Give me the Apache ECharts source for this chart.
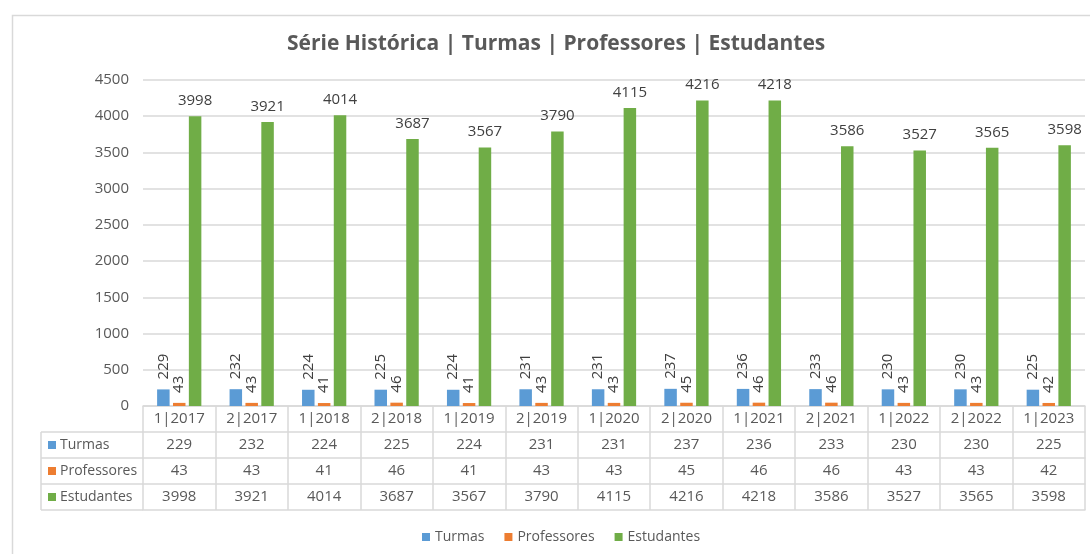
<!DOCTYPE html>
<html>
<head>
<meta charset="utf-8">
<script src="https://cdn.jsdelivr.net/npm/echarts@6/dist/echarts.min.js"></script>
<style>
html,body{margin:0;padding:0;background:#fff;}
#c{width:1090px;height:554px;}
</style>
</head>
<body>
<div id="c"></div>
<script>
const categories = ['1|2017','2|2017','1|2018','2|2018','1|2019','2|2019','1|2020','2|2020','1|2021','2|2021','1|2022','2|2022','1|2023'];
const turmas = [229,232,224,225,224,231,231,237,236,233,230,230,225];
const professores = [43,43,41,46,41,43,43,45,46,46,43,43,42];
const estudantes = [3998,3921,4014,3687,3567,3790,4115,4216,4218,3586,3527,3565,3598];
const seriesNames = ['Turmas','Professores','Estudantes'];
const seriesColors = ['#5B9BD5','#ED7D31','#70AD47'];
const titleText = 'Série Histórica | Turmas | Professores | Estudantes';

const FONT = '"Open Sans", sans-serif';
const W = 1090, H = 554;
const GRID = {left:143, right:5, top:80, bottom:148};
const ROW_H = 26;
const LINE = '#d9d9d9';
const TXT = '#595959';

const chart = echarts.init(document.getElementById('c'), null, {renderer:'canvas'});

const rows = [turmas, professores, estudantes];
const xAxes = [{
  type:'category', data:categories, position:'bottom', offset:0,
  axisLine:{show:true, lineStyle:{color:LINE, width:1.5}},
  axisTick:{show:true, interval:0, length:ROW_H, lineStyle:{color:LINE, width:1.5}},
  axisLabel:{interval:0, margin:5, fontSize:15, color:TXT, fontFamily:FONT},
  splitLine:{show:false}
}];
rows.forEach((arr, r) => {
  xAxes.push({
    type:'category', data:categories, position:'bottom', offset:ROW_H*(r+1),
    axisLine:{show:true, lineStyle:{color:LINE, width:1.5}},
    axisTick:{show:true, interval:0, length:ROW_H, lineStyle:{color:LINE, width:1.5}},
    axisLabel:{interval:0, margin:5, fontSize:15, color:TXT, fontFamily:FONT,
      formatter:(v, i) => String(arr[i])},
    splitLine:{show:false}
  });
});
xAxes.push({
  type:'category', data:categories, position:'bottom', offset:ROW_H*4,
  axisLine:{show:true, lineStyle:{color:LINE, width:1.5}},
  axisTick:{show:false}, axisLabel:{show:false}, splitLine:{show:false}
});

// left column of the data table
const tableTop = H - GRID.bottom;
const colLeft = 41;
const graphics = [{
  type:'rect', left:10, top:13, silent:true,
  shape:{x:0, y:0, width:1200, height:700},
  style:{fill:'none', stroke:LINE, lineWidth:1.5}
}];
for (let r = 0; r <= 3; r++) {
  const y = tableTop + ROW_H*(r+1);
  graphics.push({type:'line', silent:true, shape:{x1:colLeft, y1:y, x2:GRID.left, y2:y},
    style:{stroke:LINE, lineWidth:1.5}});
}
graphics.push({type:'line', silent:true, shape:{x1:colLeft, y1:tableTop+ROW_H, x2:colLeft, y2:tableTop+ROW_H*4},
  style:{stroke:LINE, lineWidth:1.5}});
seriesNames.forEach((n, r) => {
  const cy = tableTop + ROW_H*(r+1) + ROW_H/2;
  graphics.push({type:'rect', silent:true, shape:{x:48, y:cy-4, width:8, height:8},
    style:{fill:seriesColors[r]}});
  graphics.push({type:'text', silent:true, x:60, y:cy,
    style:{text:n, fill:TXT, font:'14px ' + FONT, textVerticalAlign:'middle', verticalAlign:'middle'}});
});

const rotLabel = {
  show:true, position:'top', rotate:90, align:'left', verticalAlign:'middle',
  distance:10, fontSize:15, color:'#404040', fontFamily:FONT
};

const option = {
  backgroundColor:'#fff',
  animation:false,
  title:{text:titleText, left:282, top:29,
    textStyle:{fontSize:21, fontWeight:'bold', color:TXT, fontFamily:FONT}},
  legend:{
    data:seriesNames, bottom:5, left:417, icon:'rect', itemWidth:8, itemHeight:8,
    itemGap:20, itemStyle:{borderWidth:0},
    textStyle:{fontSize:14, color:TXT, fontFamily:FONT}
  },
  grid:{left:GRID.left, right:GRID.right, top:GRID.top, bottom:GRID.bottom, containLabel:false},
  xAxis:xAxes,
  yAxis:{
    type:'value', min:0, max:4500, interval:500,
    axisLine:{show:false}, axisTick:{show:false},
    axisLabel:{margin:14, fontSize:15, color:TXT, fontFamily:FONT, formatter:(v) => String(v)},
    splitLine:{lineStyle:{color:LINE, width:1.5}}
  },
  series:[
    {name:'Turmas', type:'bar', data:turmas, barWidth:12.5, barGap:'27%',
      itemStyle:{color:seriesColors[0]}, label:rotLabel},
    {name:'Professores', type:'bar', data:professores, barWidth:12.5, barGap:'27%',
      itemStyle:{color:seriesColors[1]}, label:rotLabel},
    {name:'Estudantes', type:'bar', data:estudantes, barWidth:12.5, barGap:'27%',
      itemStyle:{color:seriesColors[2]},
      label:{show:true, position:'top', distance:8, fontSize:15, color:'#404040', fontFamily:FONT}}
  ],
  graphic:graphics
};
chart.setOption(option);
</script>
</body>
</html>
